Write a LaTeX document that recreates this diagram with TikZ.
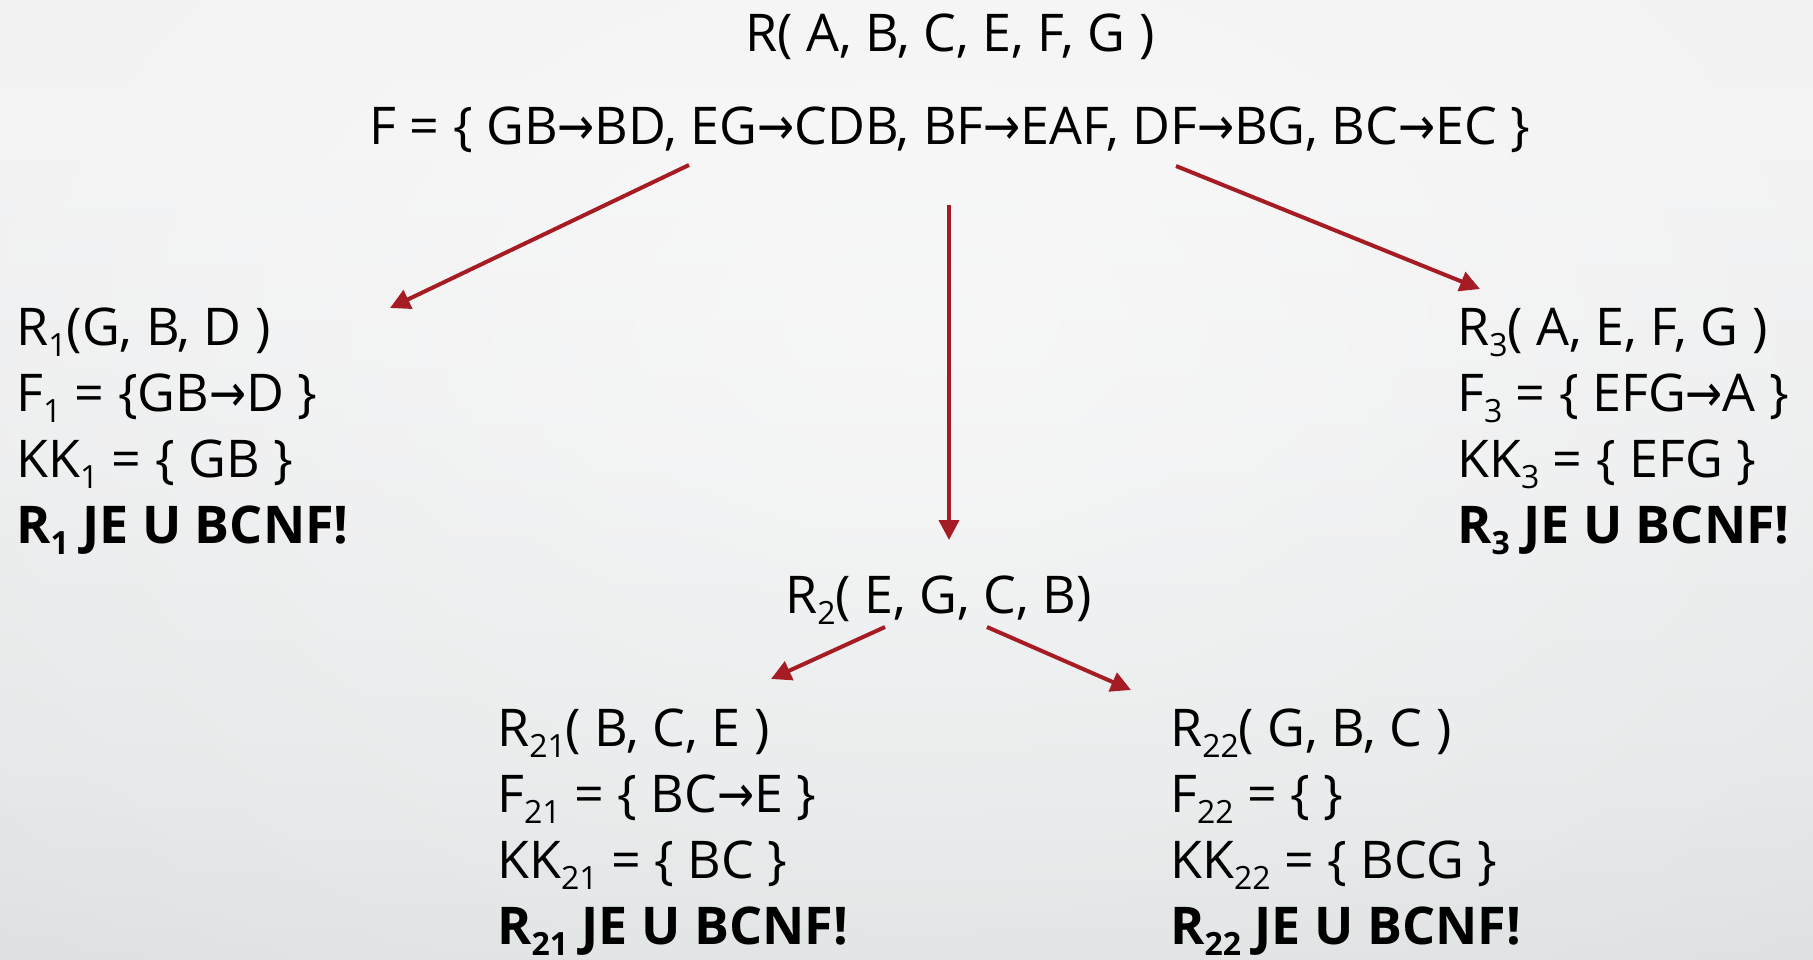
\documentclass[tikz,border=0pt]{standalone}
\usepackage{fontspec}
\setmainfont{Open Sans}
\newfontfamily\arrfont{DejaVu Sans}
\usepackage{graphicx}
\usetikzlibrary{arrows.meta,fadings}
\definecolor{arrred}{HTML}{A61C24}
\definecolor{bgtop}{HTML}{E8E9EA}
\definecolor{bgmid}{HTML}{EFEFF0}
\definecolor{bglow}{HTML}{E0E3E4}
\definecolor{bgbot}{HTML}{C9CED0}
\pgfdeclareverticalshading{bgv}{100bp}{color(0bp)=(bgbot); color(35bp)=(bglow); color(68bp)=(bgmid); color(100bp)=(bgtop)}
\tikzfading[name=glow, inner color=transparent!40, outer color=transparent!100]
\newcommand\lsub[1]{\raisebox{-0.22em}{\fontsize{32}{32}\selectfont #1}}
\newcommand\arr{\scalebox{0.85}[1]{\arrfont\mdseries →}}
\begin{document}
\begin{tikzpicture}[x=1pt,y=-1pt,
  txt/.style={inner sep=0pt, font=\fontsize{52}{62}\selectfont, text=black},
  conn/.style={draw=arrred, line width=4pt, -{Triangle[length=20pt,width=20pt,fill=arrred]}}]
\useasboundingbox (0,0) rectangle (1813,960);
\shade[shading=bgv] (0,0) rectangle (1813,960);
\begin{scope}
\clip (0,0) rectangle (1813,960);
\fill[white, path fading=glow] (920,320) ellipse (1700 and 1100);
\end{scope}

% top
\node[txt, anchor=base] (R) at (950,52) {R( A, B, C, E, F, G )};
\node[txt, anchor=base] (F) at (950,145) {F = \{ GB\arr BD, EG\arr CDB, BF\arr EAF, DF\arr BG, BC\arr EC \}};

% R1
\node[txt, anchor=base west] (r1a) at (16,345) {R\lsub{1}(G, B, D )};
\node[txt, anchor=base west] (r1b) at (16,411) {F\lsub{1} = \{GB\arr D \}};
\node[txt, anchor=base west] (r1c) at (16,477) {KK\lsub{1} = \{ GB \}};
\node[txt, anchor=base west, font=\fontsize{52}{62}\selectfont\bfseries] (r1d) at (16,543) {R\lsub{1} JE U BCNF!};

% R3
\node[txt, anchor=base west] (r3a) at (1457,345) {R\lsub{3}( A, E, F, G )};
\node[txt, anchor=base west] (r3b) at (1457,411) {F\lsub{3} = \{ EFG\arr A \}};
\node[txt, anchor=base west] (r3c) at (1457,477) {KK\lsub{3} = \{ EFG \}};
\node[txt, anchor=base west, font=\fontsize{52}{62}\selectfont\bfseries] (r3d) at (1457,543) {R\lsub{3} JE U BCNF!};

% R2
\node[txt, anchor=base west] (r2) at (785,613) {R\lsub{2}( E, G, C, B)};

% R21
\node[txt, anchor=base west] (r21a) at (497,746) {R\lsub{21}( B, C, E )};
\node[txt, anchor=base west] (r21b) at (497,812) {F\lsub{21} = \{ BC\arr E \}};
\node[txt, anchor=base west] (r21c) at (497,878) {KK\lsub{21} = \{ BC \}};
\node[txt, anchor=base west, font=\fontsize{52}{62}\selectfont\bfseries] (r21d) at (497,944) {R\lsub{21} JE U BCNF!};

% R22
\node[txt, anchor=base west] (r22a) at (1170,746) {R\lsub{22}( G, B, C )};
\node[txt, anchor=base west] (r22b) at (1170,812) {F\lsub{22} = \{ \}};
\node[txt, anchor=base west] (r22c) at (1170,878) {KK\lsub{22} = \{ BCG \}};
\node[txt, anchor=base west, font=\fontsize{52}{62}\selectfont\bfseries] (r22d) at (1170,944) {R\lsub{22} JE U BCNF!};

% connector end points
\coordinate (a1s) at (689,165);
\coordinate (a1e) at (390,308);
\coordinate (a2s) at (949,205);
\coordinate (a2e) at (949,540);
\coordinate (a3s) at (1176,166);
\coordinate (a3e) at (1480,289);
\coordinate (a4s) at (885,627);
\coordinate (a4e) at (771,679);
\coordinate (a5s) at (987,627);
\coordinate (a5e) at (1131,690);

\draw[conn] (a1s) -- (a1e);
\draw[conn] (a2s) -- (a2e);
\draw[conn] (a3s) -- (a3e);
\draw[conn] (a4s) -- (a4e);
\draw[conn] (a5s) -- (a5e);
\end{tikzpicture}
\end{document}
